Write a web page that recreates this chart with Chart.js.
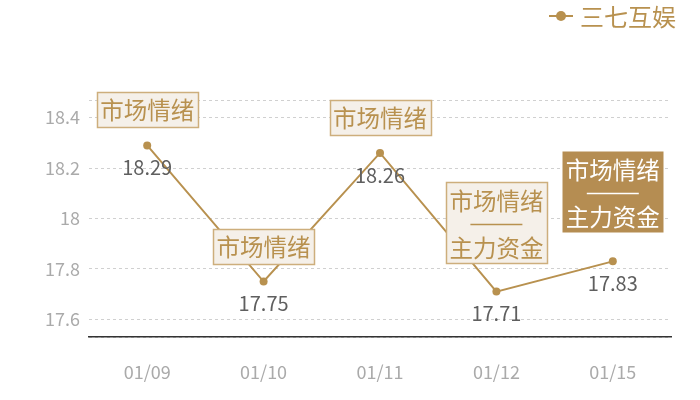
<!DOCTYPE html>
<html>
<head>
<meta charset="utf-8">
<script src="https://cdn.jsdelivr.net/npm/chart.js@4.4.0/dist/chart.umd.min.js"></script>
<style>
html,body{margin:0;padding:0;background:#fff;}
#wrap{width:700px;height:400px;}
</style>
</head>
<body>
<div id="wrap"><canvas id="c" width="700" height="400"></canvas></div>
<script>
const categories = ['01/09', '01/10', '01/11', '01/12', '01/15'];
const seriesName = '三七互娱';
const values = [18.29, 17.75, 18.26, 17.71, 17.83];
const yTickValues = [17.6, 17.8, 18, 18.2, 18.4];
const yMin = 17.53;
const yMax = 18.47;
const annotations = [
  ['市场情绪'],
  ['市场情绪'],
  ['市场情绪'],
  ['市场情绪', '——', '主力资金'],
  ['市场情绪', '——', '主力资金']
];
const highlighted = [false, false, false, false, true];

const GOLD = '#b8914f';
const FONT = '"Noto Sans CJK SC", "Noto Sans", sans-serif';

const overlayPlugin = {
  id: 'overlay',
  afterDatasetsDraw(chart) {
    const ctx = chart.ctx;
    const meta = chart.getDatasetMeta(0);
    ctx.save();
    // value labels
    ctx.font = '20px ' + FONT;
    ctx.fillStyle = '#5f5f5f';
    ctx.textAlign = 'center';
    ctx.textBaseline = 'middle';
    meta.data.forEach((pt, i) => {
      ctx.fillText(String(values[i]), pt.x, pt.y + 22);
    });
    // annotation boxes
    meta.data.forEach((pt, i) => {
      const lines = annotations[i];
      const w = 101;
      const h = lines.length === 1 ? 35 : 81;
      const gap = lines.length === 1 ? 18 : 29;
      const x0 = Math.round(pt.x - w / 2) + 0.5;
      const y0 = Math.round(pt.y - gap - h) + 0.5;
      if (highlighted[i]) {
        ctx.fillStyle = '#b58d52';
        ctx.fillRect(x0, y0, w, h);
      } else {
        ctx.fillStyle = '#f5f0e9';
        ctx.fillRect(x0, y0, w, h);
        ctx.strokeStyle = '#cdae7c';
        ctx.lineWidth = 1.5;
        ctx.strokeRect(x0, y0, w, h);
      }
      ctx.fillStyle = highlighted[i] ? '#ffffff' : GOLD;
      ctx.font = '23.5px ' + FONT;
      ctx.textAlign = 'center';
      ctx.textBaseline = 'middle';
      if (lines.length === 1) {
        ctx.fillText(lines[0], pt.x, y0 + h / 2);
      } else {
        lines.forEach((t, k) => {
          if (t === '——') {
            ctx.strokeStyle = highlighted[i] ? '#ffffff' : GOLD;
            ctx.lineWidth = 1.6;
            ctx.beginPath();
            ctx.moveTo(pt.x - 26, y0 + 42);
            ctx.lineTo(pt.x + 26, y0 + 42);
            ctx.stroke();
          } else {
            ctx.fillText(t, pt.x, y0 + 19 + k * 23.5);
          }
        });
      }
    });
    // legend
    ctx.strokeStyle = GOLD;
    ctx.lineWidth = 2;
    ctx.beginPath();
    ctx.moveTo(549, 16);
    ctx.lineTo(573, 16);
    ctx.stroke();
    ctx.fillStyle = GOLD;
    ctx.beginPath();
    ctx.arc(561, 16, 5, 0, Math.PI * 2);
    ctx.fill();
    ctx.font = '24px ' + FONT;
    ctx.textAlign = 'left';
    ctx.textBaseline = 'middle';
    ctx.fillText(chart.data.datasets[0].label, 580, 17);
    ctx.restore();
  }
};

new Chart(document.getElementById('c'), {
  type: 'line',
  data: {
    labels: categories,
    datasets: [{
      label: seriesName,
      data: values,
      borderColor: GOLD,
      backgroundColor: GOLD,
      borderWidth: 2,
      pointRadius: 4,
      pointHoverRadius: 4,
      pointBackgroundColor: GOLD,
      pointBorderWidth: 0,
      tension: 0
    }]
  },
  options: {
    responsive: false,
    animation: false,
    events: [],
    layout: { padding: { top: 100, right: 29, left: 0, bottom: 0 } },
    plugins: { legend: { display: false }, tooltip: { enabled: false } },
    scales: {
      x: {
        offset: true,
        grid: { display: false },
        border: { display: true, color: '#333', width: 1.5 },
        ticks: { color: '#aaa', font: { family: FONT, size: 18 }, padding: 16 },
        afterFit: s => { s.height = 63; }
      },
      y: {
        min: yMin,
        max: yMax,
        afterBuildTicks: s => {
          s.ticks = [yMin].concat(yTickValues, [yMax]).map(v => ({ value: v }));
        },
        grid: { color: '#d0d0d0', lineWidth: 1, drawTicks: false },
        border: { display: false, dash: [3, 3] },
        ticks: {
          color: '#aaa',
          font: { family: FONT, size: 18 },
          padding: 9,
          callback: v => (yTickValues.includes(v) ? String(v) : '')
        },
        afterFit: s => { s.width = 89; }
      }
    }
  },
  plugins: [overlayPlugin]
});
</script>
</body>
</html>
